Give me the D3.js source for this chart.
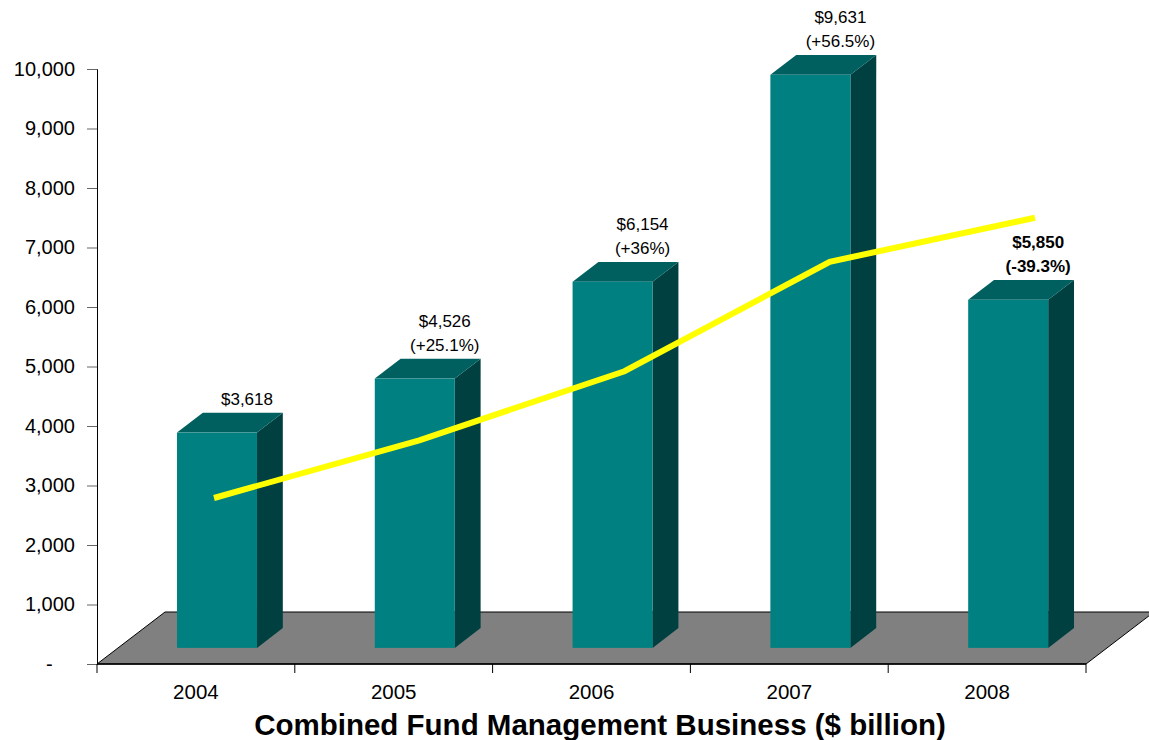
<!DOCTYPE html>
<html>
<head>
<meta charset="utf-8">
<script src="https://cdn.jsdelivr.net/npm/d3@7"></script>
<style>
  body { margin: 0; background: #fff; }
  text { font-family: Arial, "Liberation Sans", sans-serif; }
</style>
</head>
<body>
<svg id="chart" width="1149" height="740"></svg>
<script>
var years = ["2004", "2005", "2006", "2007", "2008"];
var fundValues = [3618, 4526, 6154, 9631, 5850];
var changes = [null, "+25.1%", "+36%", "+56.5%", "-39.3%"];
var trendValues = [2790, 3760, 4920, 6760, 7500];
var yTicks = [0, 1000, 2000, 3000, 4000, 5000, 6000, 7000, 8000, 9000, 10000];

var svg = d3.select("#chart");

var x = d3.scaleBand().domain(years).range([97, 1086]);
var y = d3.scaleLinear().domain([0, 10000]).range([664, 69]);
// the trend line sits on its own horizontal spread
var xLine = d3.scalePoint().domain(years).range([214, 1035]);

// depth of the floor and of the boxes
var depth = {dx: 68, dy: -52};
var barFront = 0.31, barBack = 0.69;
var barWidth = 80;

// floor
var x0 = x.range()[0], x1 = x.range()[1], y0 = y(0);
svg.append("polygon")
    .attr("points", [[x0, y0], [x0 + depth.dx, y0 + depth.dy], [x1 + depth.dx, y0 + depth.dy], [x1, y0]].join(" "))
    .attr("fill", "#808080")
    .attr("stroke", "#000")
    .attr("stroke-width", 1);

// y axis
var yAxis = svg.append("g")
    .attr("transform", "translate(" + x0 + ",0)")
    .call(d3.axisLeft(y)
      .tickValues(yTicks)
      .tickSize(10)
      .tickPadding(12)
      .tickFormat(d => d === 0 ? "-    " : d3.format(",")(d)));
yAxis.select(".domain").attr("stroke", "#000");
yAxis.selectAll(".tick line").attr("stroke", "#666");
yAxis.selectAll("text")
    .attr("font-size", 20)
    .attr("fill", "#000")
    .style("white-space", "pre");

// x axis
svg.append("line")
    .attr("x1", x0).attr("x2", x1)
    .attr("y1", y0).attr("y2", y0)
    .attr("stroke", "#000")
    .attr("stroke-width", 1.5);

var edges = years.map(d => x(d)).concat([x1]);
svg.selectAll(".xtick")
    .data(edges)
    .enter().append("line")
    .classed("xtick", true)
    .attr("x1", d => d).attr("x2", d => d)
    .attr("y1", y0).attr("y2", y0 + 9)
    .attr("stroke", "#000");

svg.selectAll(".xlabel")
    .data(years)
    .enter().append("text")
    .classed("xlabel", true)
    .attr("x", d => x(d) + x.bandwidth() / 2)
    .attr("y", 699)
    .attr("font-size", 20.5)
    .attr("text-anchor", "middle")
    .text(d => d);

// 3d boxes
var bars = years.map((d, i) => {
  var left = x(d) + (x.bandwidth() - barWidth) / 2 + depth.dx * barFront;
  var bottom = y0 + depth.dy * barFront;
  var top = bottom - (y0 - y(fundValues[i]));
  var ox = depth.dx * (barBack - barFront), oy = depth.dy * (barBack - barFront);
  return {year: d, value: fundValues[i], change: changes[i], left: left, right: left + barWidth,
          top: top, bottom: bottom, ox: ox, oy: oy};
});

var box = svg.selectAll(".box")
    .data(bars)
    .enter().append("g")
    .classed("box", true);

box.append("polygon")
    .attr("points", b => [[b.right, b.top], [b.right + b.ox, b.top + b.oy], [b.right + b.ox, b.bottom + b.oy], [b.right, b.bottom]].join(" "))
    .attr("fill", "#004040");

box.append("polygon")
    .attr("points", b => [[b.left, b.top], [b.left + b.ox, b.top + b.oy], [b.right + b.ox, b.top + b.oy], [b.right, b.top]].join(" "))
    .attr("fill", "#006060");

box.append("rect")
    .attr("x", b => b.left)
    .attr("y", b => b.top)
    .attr("width", barWidth)
    .attr("height", b => b.bottom - b.top)
    .attr("fill", "#008080");

// trend line
svg.append("path")
    .datum(trendValues)
    .attr("d", d3.line().x((d, i) => xLine(years[i])).y(d => y(d)))
    .attr("fill", "none")
    .attr("stroke", "#ffff00")
    .attr("stroke-width", 6);

// value labels
var labels = svg.selectAll(".vlabel")
    .data(bars)
    .enter().append("text")
    .classed("vlabel", true)
    .attr("font-size", 17)
    .attr("text-anchor", "middle")
    .attr("font-weight", (b, i) => i === bars.length - 1 ? "bold" : "normal");

labels.append("tspan")
    .attr("x", b => (b.left + b.right) / 2 + 30)
    .attr("y", b => b.top + b.oy - 8 - (b.change ? 24 : 0))
    .text(b => "$" + d3.format(",")(b.value));

labels.filter(b => b.change)
  .append("tspan")
    .attr("x", b => (b.left + b.right) / 2 + 30)
    .attr("y", b => b.top + b.oy - 8)
    .text(b => "(" + b.change + ")");

// title
svg.append("text")
    .attr("x", 600)
    .attr("y", 735)
    .attr("text-anchor", "middle")
    .attr("font-size", 29.5)
    .attr("font-weight", "bold")
    .text("Combined Fund Management Business ($ billion)");
</script>
</body>
</html>
